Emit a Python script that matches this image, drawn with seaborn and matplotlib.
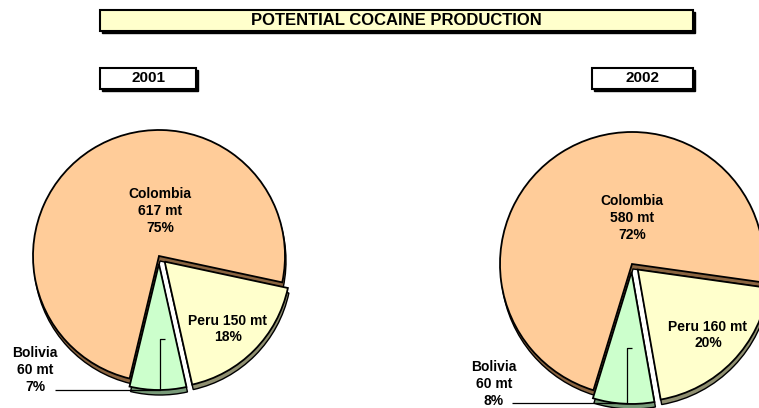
import matplotlib
matplotlib.use("Agg")
import matplotlib.pyplot as plt
import matplotlib.patches as mpatches
import seaborn as sns

# ──────────────────────────────────────────────
# Data
# ──────────────────────────────────────────────
TITLE     = "POTENTIAL COCAINE PRODUCTION"
YEARS     = ["2001", "2002"]
COUNTRIES = ["Colombia", "Peru", "Bolivia"]
MT_2001   = [617, 150, 60]
MT_2002   = [580, 160, 60]
PCT_2001  = [75, 18, 7]
PCT_2002  = [72, 20, 8]

FACE_COLORS = ["#FFCC99", "#FFFFCC", "#CCFFCC"]
SIDE_COLORS = ["#8A6440", "#8F8F70", "#789A78"]

sns.set_theme(style="white")
plt.rcParams["font.family"] = ["Liberation Sans", "DejaVu Sans"]
plt.rcParams["text.color"] = "black"

W, H = 759, 408
fig = plt.figure(figsize=(W / 100, H / 100), dpi=100)
ax = fig.add_axes([0, 0, 1, 1])


def boxed_label(text, x0, x1, y_top, y_bot, face, size):
    # shadowed frame (heavier right / bottom edge)
    ax.add_patch(mpatches.Rectangle((x0 + 1.5, H - y_bot - 1.5), x1 - x0, y_bot - y_top,
                                    facecolor="black", edgecolor="black", lw=1, zorder=5))
    ax.add_patch(mpatches.Rectangle((x0, H - y_bot), x1 - x0, y_bot - y_top,
                                    facecolor=face, edgecolor="black", lw=1.5, zorder=6))
    ax.text((x0 + x1) / 2, H - (y_top + y_bot) / 2, text, ha="center", va="center",
            fontsize=size, fontweight="bold", color="black", zorder=7)


def draw_pie(values, pcts, center, radius, start, label_pos, leader):
    cx, cy = center
    explode = [0, 8, 8]
    # depth of the 3D pie: darker copy pushed down
    ax.pie(values, explode=explode, startangle=start, counterclock=False,
           colors=SIDE_COLORS, radius=radius, center=(cx + 1, cy - 5),
           wedgeprops=dict(edgecolor="black", linewidth=1.0))
    ax.pie(values, explode=explode, startangle=start, counterclock=False,
           colors=FACE_COLORS, radius=radius, center=(cx, cy),
           wedgeprops=dict(edgecolor="black", linewidth=1.3))

    col_txt = f"{COUNTRIES[0]}\n{values[0]} mt\n{pcts[0]}%"
    per_txt = f"{COUNTRIES[1]} {values[1]} mt\n{pcts[1]}%"
    bol_txt = f"{COUNTRIES[2]}\n{values[2]} mt\n{pcts[2]}%"
    for txt, (lx, ly) in zip([col_txt, per_txt, bol_txt], label_pos):
        ax.text(lx, H - ly, txt, ha="center", va="center", fontsize=10,
                fontweight="bold", color="black", linespacing=1.25, zorder=8)

    # Bolivia leader line
    (x0, y0), (x1, y1) = leader
    ax.plot([x0, x1, x1, x1 + 5], [H - y0, H - y0, H - y1, H - y1],
            color="black", lw=0.9, zorder=8, solid_capstyle="butt")


draw_pie(MT_2001, PCT_2001, (159, H - 256), 126, 256.5,
         [(160, 211), (228, 329), (35, 370)], ((55, 390), (160, 339)))
draw_pie(MT_2002, PCT_2002, (632, H - 264), 132, 253,
         [(632, 218), (708, 335), (494, 384)], ((512, 403), (627, 348)))

boxed_label(TITLE, 100, 693, 10, 31, "#FFFFCC", 12)
boxed_label(YEARS[0], 100, 196, 68, 89, "white", 11)
boxed_label(YEARS[1], 592, 693, 68, 89, "white", 11)

ax.set_xlim(0, W)
ax.set_ylim(0, H)
ax.set_aspect("equal")
ax.axis("off")

plt.savefig("out.png", dpi=100)
plt.close()
